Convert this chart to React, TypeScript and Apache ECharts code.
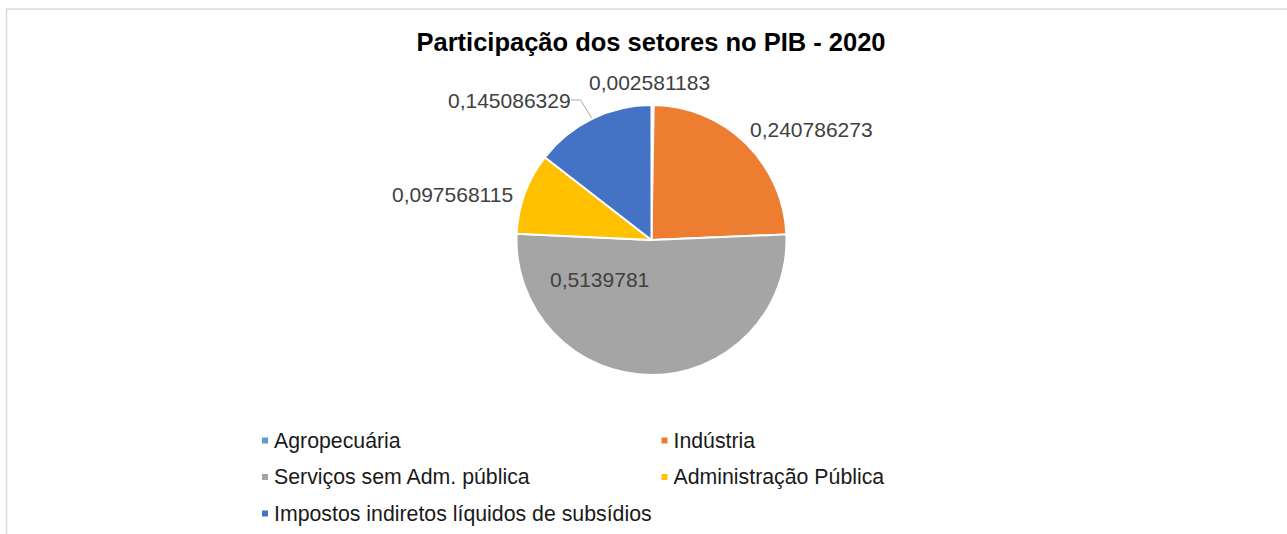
import React, { useEffect, useRef } from "react";
import * as echarts from "echarts";

const chartTitle = "Participação dos setores no PIB - 2020";
const categories = [
  "Agropecuária",
  "Indústria",
  "Serviços sem Adm. pública",
  "Administração Pública",
  "Impostos indiretos líquidos de subsídios",
];
const values = [0.002581183, 0.240786273, 0.5139781, 0.097568115, 0.145086329];
const colors = ["#5B9BD5", "#ED7D31", "#A5A5A5", "#FFC000", "#4472C4"];
const legendColumn1 = [categories[0], categories[2], categories[4]];
const legendColumn2 = [categories[1], categories[3]];

const FONT = "'Liberation Sans', Arial, sans-serif";

// label placement (left x, middle y) per slice, mimicking Excel's best fit
const labelSpots: Record<number, [number, number]> = {
  0: [589, 82],
  1: [750, 129],
  2: [550, 279],
  3: [392, 194],
  4: [448, 100],
};

export default function App() {
  const ref = useRef<HTMLDivElement>(null);
  useEffect(() => {
    if (!ref.current) return;
    const chart = echarts.init(ref.current, undefined, { renderer: "svg" });
    const legendBase = {
      orient: "vertical",
      icon: "rect",
      itemWidth: 8,
      itemHeight: 8,
      itemGap: 15.5,
      top: 430,
      padding: 0,
      selectedMode: false,
      textStyle: { fontFamily: FONT, fontSize: 21.3, lineHeight: 21, color: "#1a1a1a" },
    };
    chart.setOption({
      animation: false,
      color: colors,
      title: {
        text: chartTitle,
        left: 651,
        top: 29,
        padding: 0,
        textAlign: "center",
        textStyle: { fontFamily: FONT, fontSize: 25.5, fontWeight: "bold", color: "#000" },
      },
      graphic: [
        {
          type: "rect",
          shape: { x: 6.5, y: 9, width: 1400, height: 700 },
          style: { fill: "none", stroke: "#d9d9d9", lineWidth: 1.5 },
          silent: true,
        },
      ],
      legend: [
        { ...legendBase, left: 260, data: legendColumn1 },
        { ...legendBase, left: 659.5, data: legendColumn2 },
      ],
      series: [
        {
          type: "pie",
          center: [651.5, 240],
          radius: 135,
          startAngle: 90,
          clockwise: true,
          avoidLabelOverlap: false,
          itemStyle: { borderColor: "#fff", borderWidth: 2 },
          label: {
            show: true,
            position: "outside",
            fontFamily: FONT,
            fontSize: 21,
            color: "#404040",
            formatter: (p: any) => String(p.value).replace(".", ","),
          },
          labelLine: { show: false, lineStyle: { color: "#a6a6a6", width: 1 } },
          labelLayout: (p: any) => {
            const s = labelSpots[p.dataIndex];
            return { x: s[0], y: s[1], align: "left", verticalAlign: "middle" };
          },
          emphasis: { disabled: true },
          data: categories.map((name, i) => {
            const item: any = { name, value: values[i] };
            if (i === 2) item.label = { position: "inside" };
            if (i === 4) item.labelLine = { show: true, length: 10, length2: 10 };
            return item;
          }),
        },
      ],
    });
    return () => chart.dispose();
  }, []);
  return (
    <div
      ref={ref}
      style={{ position: "fixed", left: 0, top: 0, width: 1287, height: 534, background: "#fff" }}
    />
  );
}
